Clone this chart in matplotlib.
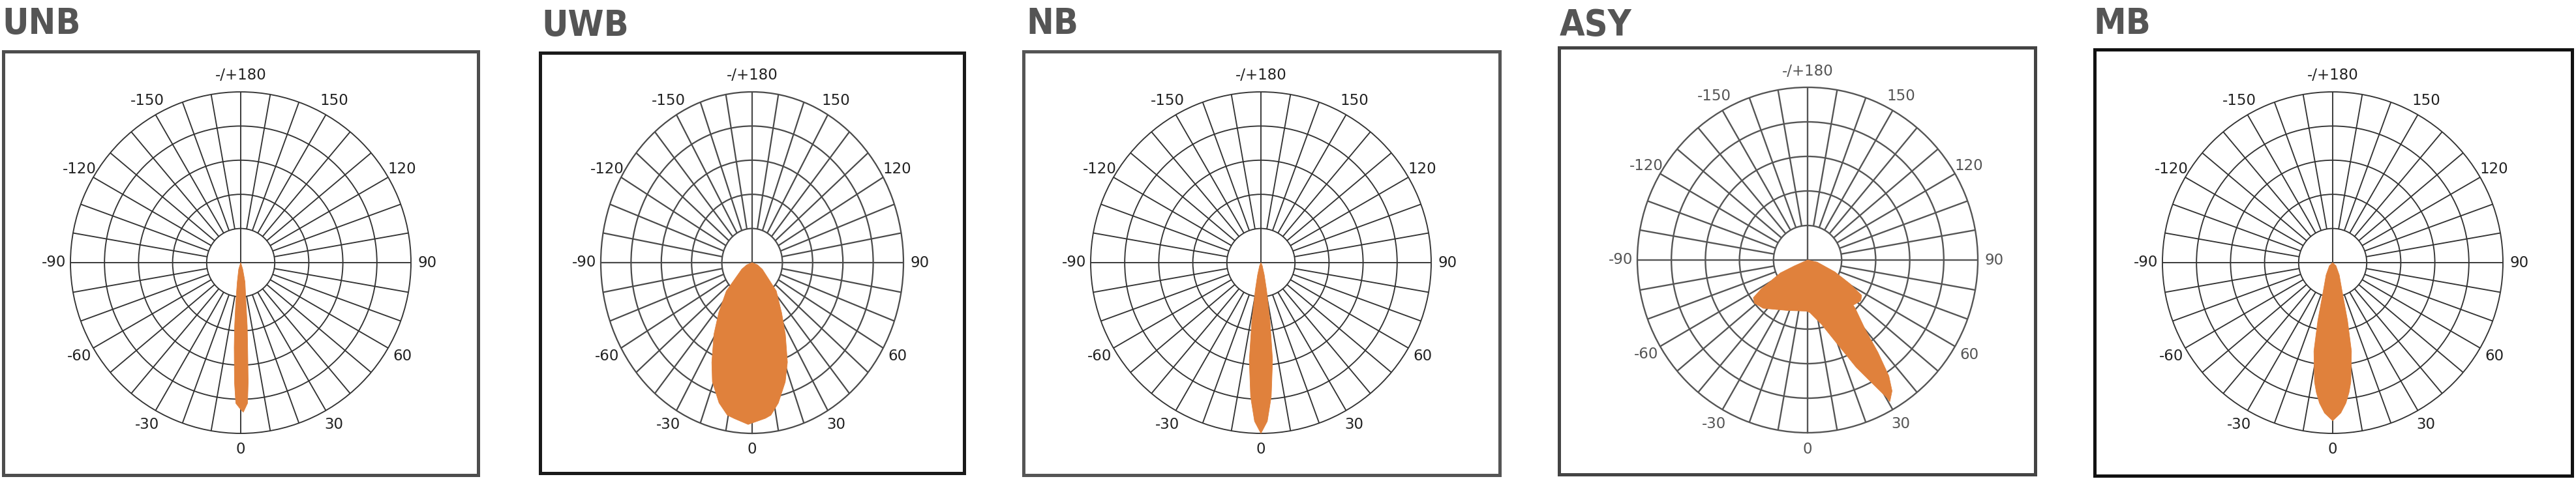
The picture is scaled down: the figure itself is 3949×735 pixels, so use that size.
import numpy as np
import matplotlib
matplotlib.use("Agg")
from matplotlib import pyplot as plt
from matplotlib.patches import Rectangle

### Panel titles
titles = ["UNB", "UWB", "NB", "ASY", "MB"]

### Theta ticks every 10 degrees, text only every 30 (0 = down, 90 = right)
tick_deg = list(range(0, 360, 10))
tick_txt = {0: "0", 30: "30", 60: "60", 90: "90", 120: "120", 150: "150",
            180: "-/+180", 210: "-150", 240: "-120", 270: "-90", 300: "-60", 330: "-30"}

### Light distribution curves
### angle in degrees, radius in ring units (outer ring = 5)
unb_deg = [-25, -17, -10, -6.9, -5.5, -4.4, -3.0, -2.0, 0, 1, 2.8, 3.6, 4.7, 5.9, 7.4, 12.5, 17, 25]
unb_r = [0, 0.2, 0.58, 1.22, 1.86, 2.49, 3.5, 4.12, 4.3, 4.38, 4.12, 3.5, 2.49, 1.86, 1.22, 0.58, 0.2, 0]

uwb_deg = [-85, -70, -60.8, -45.7, -37, -31, -24.5, -20.6, -14.9, -10.4, -7.5, -1.6,
           5.5, 7.9, 11.9, 17.4, 21.8, 27.6, 33.6, 43.9, 60, 70, 85]
uwb_r = [0, 0.19, 0.39, 1.19, 1.83, 2.45, 3.21, 3.73, 4.25, 4.54, 4.6, 4.74,
         4.58, 4.51, 4.20, 3.66, 3.14, 2.37, 1.76, 1.15, 0.39, 0.19, 0]

nb_deg = [-35, -23, -15.2, -11.6, -8.9, -6.8, -4.4, -2.3, 0, 2.3, 4.4, 6.8, 8.9, 11.6, 15.2, 23, 35]
nb_r = [0, 0.1, 0.37, 0.82, 1.72, 2.88, 3.94, 4.65, 5.0, 4.65, 3.94, 2.88, 1.72, 0.82, 0.37, 0.1, 0]

asy_deg = [-70, -66.3, -64.9, -58.4, -55.6, -51.4, -43.0, -22.5, -1.2, 2.4, 12.5, 20.3, 24.7, 28.3,
           30.3, 30.5, 33.2, 35.4, 37.7, 40.2, 45.0, 45.7, 52.9, 57.2, 61.1, 66.8, 77.8, 88]
asy_r = [0, 0.42, 0.88, 1.60, 1.93, 2.00, 1.91, 1.58, 1.48, 1.52, 1.91, 2.65, 3.42, 4.10,
         4.61, 4.76, 4.53, 4.12, 3.38, 2.61, 1.98, 1.87, 1.96, 1.89, 1.42, 0.87, 0.29, 0]

mb_deg = [-60, -47, -28, -18.6, -14.4, -12, -8.7, -7.2, -5.4, -3.1, 0,
          3.1, 5.4, 7.2, 8.7, 12, 14.4, 18.6, 28, 47, 60]
mb_r = [0, 0.13, 0.41, 0.85, 1.75, 2.65, 3.53, 3.83, 4.13, 4.41, 4.63,
        4.41, 4.13, 3.83, 3.53, 2.65, 1.75, 0.85, 0.41, 0.13, 0]

curves = [(unb_deg, unb_r), (uwb_deg, uwb_r), (nb_deg, nb_r), (asy_deg, asy_r), (mb_deg, mb_r)]

### Layout in pixels (figure is 3949 x 735, y measured from the top)
W, H = 3949, 735
centers = [(369, 403), (1153, 403), (1933, 403), (2771, 399), (3576, 403)]
radii = [(261, 262), (232, 262), (261, 262), (261, 265), (261, 262)]
boxes = [(5, 79, 733, 729), (828, 81, 1478, 726), (1569, 79, 2299, 729),
         (2390, 73, 3120, 728), (3211, 76, 3943, 730)]
title_pos = [(3, 52), (830, 55), (1573, 52), (2391, 54), (3209, 52)]

box_colors = ["#4d4d4d", "#1a1a1a", "#555555", "#444444", "#111111"]
grid_colors = ["#333333", "#4a4a4a", "#333333", "#555555", "#333333"]
grid_lw = [1.35, 1.6, 1.35, 1.7, 1.35]
label_colors = ["#222222", "#222222", "#222222", "#555555", "#222222"]
orange = "#e0813c"

fig = plt.figure(figsize=(W / 100, H / 100), dpi=100)


def px_rect(l, t, w, h):
    return [l / W, 1 - (t + h) / H, w / W, h / H]


for i in range(5):
    cx, cy = centers[i]
    rx, ry = radii[i]
    ax = fig.add_axes(px_rect(cx - rx, cy - ry, 2 * rx, 2 * ry), projection="polar")
    ax.set_aspect("auto")
    ax.set_theta_zero_location("S")
    ax.set_theta_direction(1)
    ax.set_rorigin(0)
    ax.set_rgrids([2, 3, 4], labels=["", "", ""])
    ax.set_thetagrids(tick_deg, [tick_txt.get(d, "") for d in tick_deg])
    ax.tick_params(axis="x", length=0, pad=11, labelsize=16.5, labelcolor=label_colors[i])
    ax.tick_params(axis="y", length=0)
    ax.grid(True, color=grid_colors[i], linewidth=grid_lw[i])
    for s in ["polar", "inner"]:
        ax.spines[s].set_color(grid_colors[i])
        ax.spines[s].set_linewidth(grid_lw[i])
    ax.patch.set_visible(False)

    # the two main axes cross the hole in the middle
    for a in [0, 90, 180, 270]:
        ax.plot(np.deg2rad([a, a]), [0, 1], color=grid_colors[i], lw=grid_lw[i],
                clip_on=False, zorder=2)

    deg, r = curves[i]
    ax.fill(np.deg2rad(deg), r, facecolor=orange, edgecolor=orange, lw=0.6,
            zorder=3, clip_on=False)
    ax.set_ylim(1, 5)

    l, t, rr, b = boxes[i]
    fig.add_artist(Rectangle((l / W, 1 - b / H), (rr - l) / W, (b - t) / H,
                             transform=fig.transFigure, fill=False,
                             edgecolor=box_colors[i], lw=3.6))

    tx, ty = title_pos[i]
    fig.text(tx / W, 1 - ty / H, titles[i], fontsize=40, fontweight="bold",
             fontstretch="condensed", color="#555555", family="DejaVu Sans",
             ha="left", va="baseline")

fig.savefig("out.png", dpi=100, facecolor="white")
